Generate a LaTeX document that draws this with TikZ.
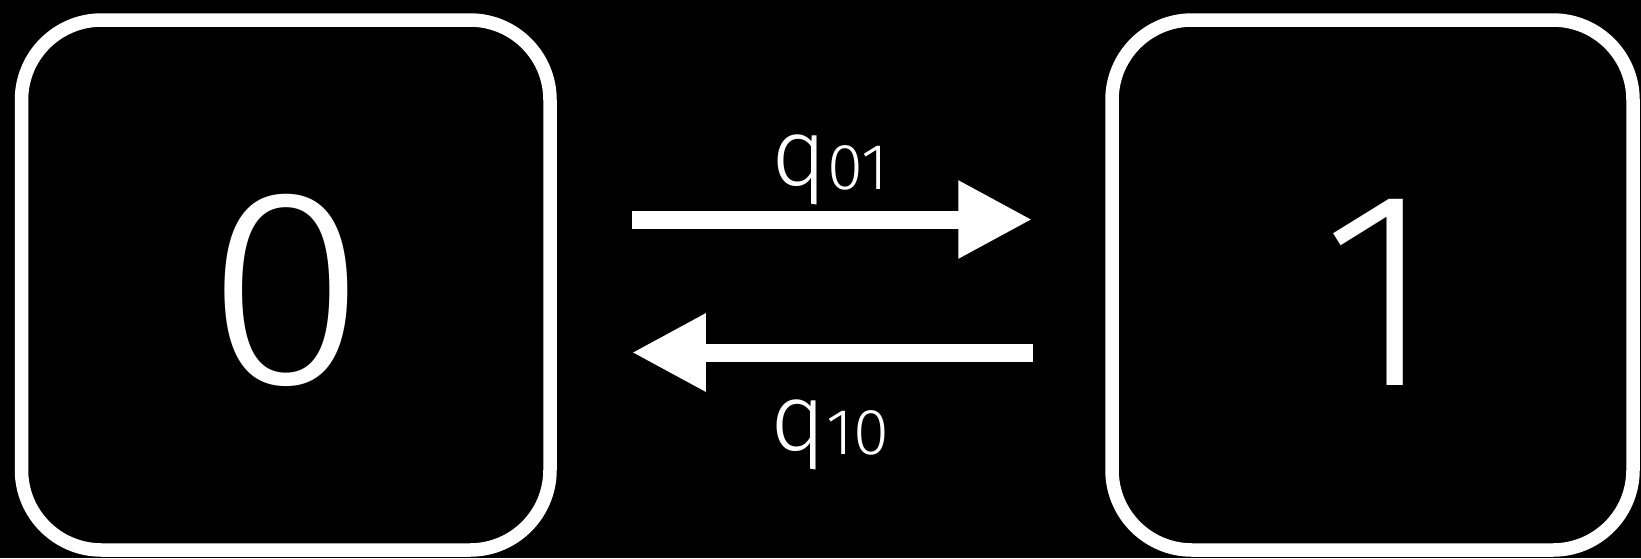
\documentclass[tikz,border=0pt]{standalone}
\usepackage{fontspec}
\setmainfont{Fira Sans Light}
\usetikzlibrary{arrows.meta}
\tikzset{
  statebox/.style={draw=white, line width=13.5pt, rounded corners=80pt, fill=black,
    minimum height=530pt, inner sep=0pt},
  bigdigit/.style={text=white, font=\fontsize{280}{280}\selectfont, inner sep=0pt},
  rate/.style={text=white, inner sep=0pt},
  transarrow/.style={draw=white, line width=18pt,
    -{Triangle[length=74pt 0 0, width=73pt 0 0]}},
}
\newcommand{\qlabel}[1]{{\fontsize{95}{95}\selectfont q}\raisebox{-4pt}{\fontsize{65}{65}\selectfont #1}}
\begin{document}
\begin{tikzpicture}[x=1pt, y=-1pt]
  \fill[black] (0,0) rectangle (1641,558);
  \useasboundingbox (0,0) rectangle (1641,558);
  \node[statebox, minimum width=528.5pt] (L) at (285.75,285) {};
  \node[statebox, minimum width=521pt] (R) at (1372.5,285) {};
  \node[bigdigit, xscale=1.05] (d0) at (286.5,290) {0};
  \node[bigdigit] (d1) at (1379,292) {1};
  \draw[transarrow, shorten <=75pt, shorten >=73pt] ([yshift=65.5pt]L.east) -- ([yshift=65.5pt]R.west);
  \draw[transarrow, shorten <=72.3pt, shorten >=75pt] ([yshift=-67.5pt]R.west) -- ([yshift=-67.5pt]L.east);
  \node[rate, anchor=base] (q01) at (830,185) {\qlabel{01}};
  \node[rate, anchor=base] (q10) at (830,450) {\qlabel{10}};
\end{tikzpicture}
\end{document}
